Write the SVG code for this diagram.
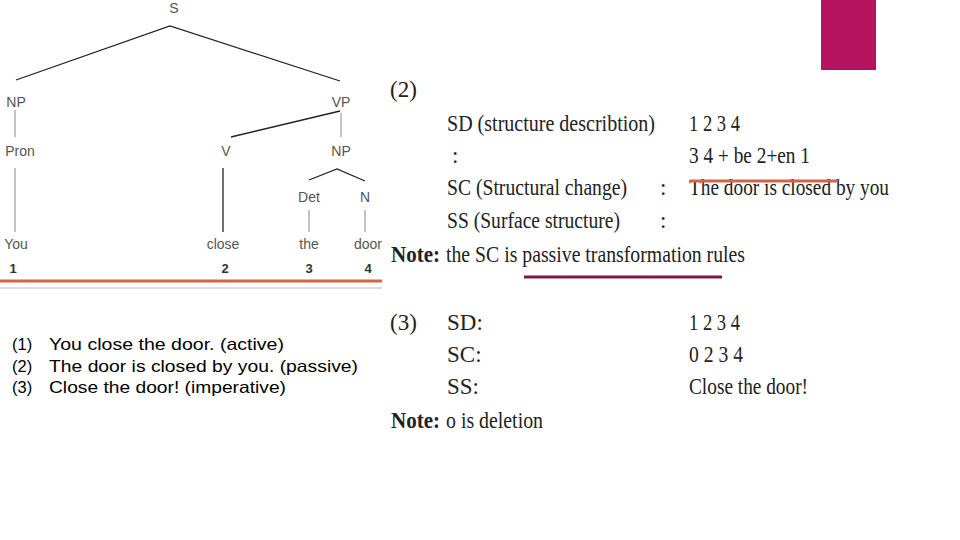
<svg xmlns="http://www.w3.org/2000/svg" width="960" height="540" viewBox="0 0 960 540">
<style>
.t{font-family:"Liberation Sans",Arial,sans-serif;font-size:14px;fill:#555;text-anchor:middle}
.n{font-family:"Liberation Sans",Arial,sans-serif;font-size:13px;fill:#333;text-anchor:middle;font-weight:bold}
.r{font-family:"Liberation Serif","Times New Roman",serif;font-size:23px;fill:#222}
.b{font-weight:bold}
.l{font-family:"Liberation Sans",Arial,sans-serif;font-size:16.5px;fill:#000}
.e{stroke:#222;stroke-width:1.3;fill:none}
.g{stroke:#888;stroke-width:1;fill:none}
</style>
<rect x="821" y="0" width="55" height="70" fill="#b5135f"/>
<g id="edges">
<polyline class="e" points="16,80 170,26 340,81"/>
<line class="g" x1="15" y1="110" x2="15" y2="137"/>
<line class="g" x1="15" y1="168" x2="15" y2="232"/>
<line class="e" x1="340" y1="111" x2="231" y2="137"/>
<line class="g" x1="341" y1="113" x2="341" y2="137"/>
<line class="e" x1="223" y1="168" x2="223" y2="232"/>
<polyline class="e" points="309,180 337,169 365,181"/>
<line class="g" x1="309" y1="210" x2="309" y2="232"/>
<line class="g" x1="365" y1="210" x2="365" y2="232"/>
</g>
<g id="n-S"><text class="t" x="174" y="13">S</text></g>
<g id="n-NP1"><text class="t" x="16" y="107">NP</text></g>
<g id="n-VP"><text class="t" x="341" y="107">VP</text></g>
<g id="n-Pron"><text class="t" x="20" y="156">Pron</text></g>
<g id="n-V"><text class="t" x="226" y="156">V</text></g>
<g id="n-NP2"><text class="t" x="341" y="156">NP</text></g>
<g id="n-Det"><text class="t" x="309" y="202">Det</text></g>
<g id="n-N"><text class="t" x="365" y="202">N</text></g>
<g id="n-You"><text class="t" x="16" y="249">You</text><text class="n" x="13" y="273">1</text></g>
<g id="n-close"><text class="t" x="223" y="249">close</text><text class="n" x="225" y="273">2</text></g>
<g id="n-the"><text class="t" x="309" y="249">the</text><text class="n" x="309" y="273">3</text></g>
<g id="n-door"><text class="t" x="368" y="249">door</text><text class="n" x="368" y="273">4</text></g>
<line x1="0" y1="281" x2="382" y2="281" stroke="#d0654a" stroke-width="3"/>
<line x1="0" y1="288" x2="382" y2="288" stroke="#ddd" stroke-width="2"/>
<text class="r" x="390" y="97">(2)</text>
<text class="r" x="447" y="131" textLength="208" lengthAdjust="spacingAndGlyphs">SD (structure describtion)</text>
<text class="r" x="452" y="163">:</text>
<text class="r" x="447" y="195" textLength="180" lengthAdjust="spacingAndGlyphs">SC (Structural change)</text>
<text class="r" x="660" y="195">:</text>
<text class="r" x="447" y="228" textLength="173" lengthAdjust="spacingAndGlyphs">SS (Surface structure)</text>
<text class="r" x="660" y="228">:</text>
<text class="r" x="689" y="131" textLength="51" lengthAdjust="spacingAndGlyphs">1 2 3 4</text>
<text class="r" x="689" y="163" textLength="121" lengthAdjust="spacingAndGlyphs">3 4 + be 2+en 1</text>
<text class="r" x="689" y="195" textLength="200" lengthAdjust="spacingAndGlyphs">The door is closed by you</text>
<line x1="690" y1="181" x2="838" y2="181" stroke="#d0654a" stroke-width="3"/>
<text class="r b" x="391" y="262" textLength="49" lengthAdjust="spacingAndGlyphs">Note:</text>
<text class="r" x="446" y="262" textLength="299" lengthAdjust="spacingAndGlyphs">the SC is passive transformation rules</text>
<line x1="524" y1="277" x2="722" y2="277" stroke="#7a1a4a" stroke-width="3"/>
<text class="r" x="390" y="330">(3)</text>
<text class="r" x="447" y="330">SD:</text>
<text class="r" x="447" y="362">SC:</text>
<text class="r" x="447" y="394">SS:</text>
<text class="r" x="689" y="330" textLength="51" lengthAdjust="spacingAndGlyphs">1 2 3 4</text>
<text class="r" x="689" y="362" textLength="54" lengthAdjust="spacingAndGlyphs">0 2 3 4</text>
<text class="r" x="689" y="394" textLength="119" lengthAdjust="spacingAndGlyphs">Close the door!</text>
<text class="r b" x="391" y="428" textLength="49" lengthAdjust="spacingAndGlyphs">Note:</text>
<text class="r" x="446" y="428" textLength="97" lengthAdjust="spacingAndGlyphs">o is deletion</text>
<text class="l" x="12" y="350">(1)</text><text class="l" x="49" y="350" textLength="235" lengthAdjust="spacingAndGlyphs">You close the door. (active)</text>
<text class="l" x="12" y="372">(2)</text><text class="l" x="49" y="372" textLength="309" lengthAdjust="spacingAndGlyphs">The door is closed by you. (passive)</text>
<text class="l" x="12" y="393">(3)</text><text class="l" x="49" y="393" textLength="237" lengthAdjust="spacingAndGlyphs">Close the door! (imperative)</text>
</svg>
